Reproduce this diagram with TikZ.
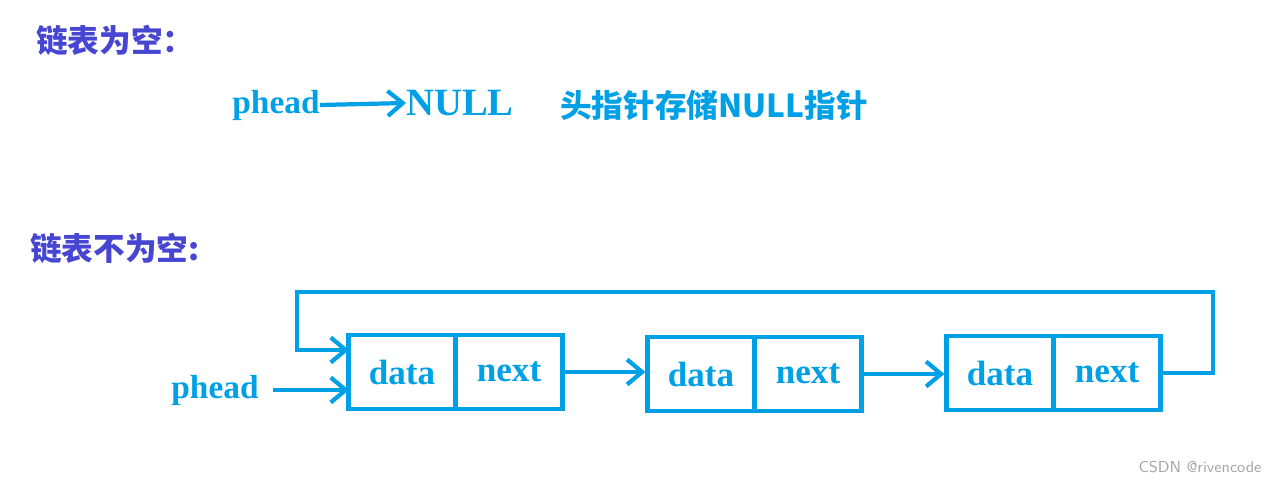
\documentclass[tikz,border=0pt]{standalone}
\usepackage{fontspec}
\setmainfont{Liberation Serif}
\newfontfamily\cjk{Noto Sans CJK SC}
\usetikzlibrary{arrows.meta, positioning}
\definecolor{lblue}{HTML}{00A0E6}
\definecolor{tpurple}{HTML}{4646D2}

\begin{document}
\begin{tikzpicture}[x=0.02cm,y=-0.02cm,
  every node/.style={inner sep=0pt},
  title/.style={font=\cjk\bfseries\fontsize{18}{20}\selectfont, text=tpurple},
  word/.style={font=\bfseries\fontsize{19}{21}\selectfont, text=lblue},
  cell/.style={draw=lblue, line width=2.4pt, minimum width=107*0.02cm, minimum height=74*0.02cm, font=\bfseries\fontsize{20}{22}\selectfont, text=lblue},
  link/.style={draw=lblue, line width=2.4pt, -{Straight Barb[length=3mm,width=5mm]}}]
\useasboundingbox (0,0) rectangle (1276,483);

%Empty list:
\node (T1) [title, anchor=west] at (36,40) {链表为空：};
\node (H1) [word] at (276,105) {phead};
\node (N) [font=\bfseries\fontsize{22}{24}\selectfont, text=lblue, anchor=west] at (406,103) {NULL};
\node (C) [font=\cjk\bfseries\fontsize{18}{20}\selectfont, text=lblue, anchor=west] at (560,105) {头指针存储NULL指针};
\draw [link] (H1.east) -- (N.west);

%Non-empty list:
\node (T2) [title, anchor=west] at (30,248) {链表不为空:};
\node (D1) [cell] at (402,372) {data};
\node (X1) [cell] at (509,372) {next};
\node (D2) [cell] at (701,374) {data};
\node (X2) [cell] at (808,374) {next};
\node (D3) [cell] at (1000,373) {data};
\node (X3) [cell] at (1107,373) {next};
\node (H2) [word] at (215,390) {phead};

\coordinate (R) at (1213,292);
\coordinate (L) at (297,292);
\coordinate (E) at (349,350);
\coordinate (P) at (349,390);

\draw [link] (X1.east) -- (D2.west |- X1.east);
\draw [link] (X2.east) -- (D3.west |- X2.east);
\draw [link] (X3.east) -| (R) -- (L) |- (E);
\draw [link] ([xshift=8pt]H2.east) -- (P);

\node (W) [font=\sffamily\fontsize{9}{10}\selectfont, text=gray!70] at (1200,467) {CSDN @rivencode};
\end{tikzpicture}
\end{document}
